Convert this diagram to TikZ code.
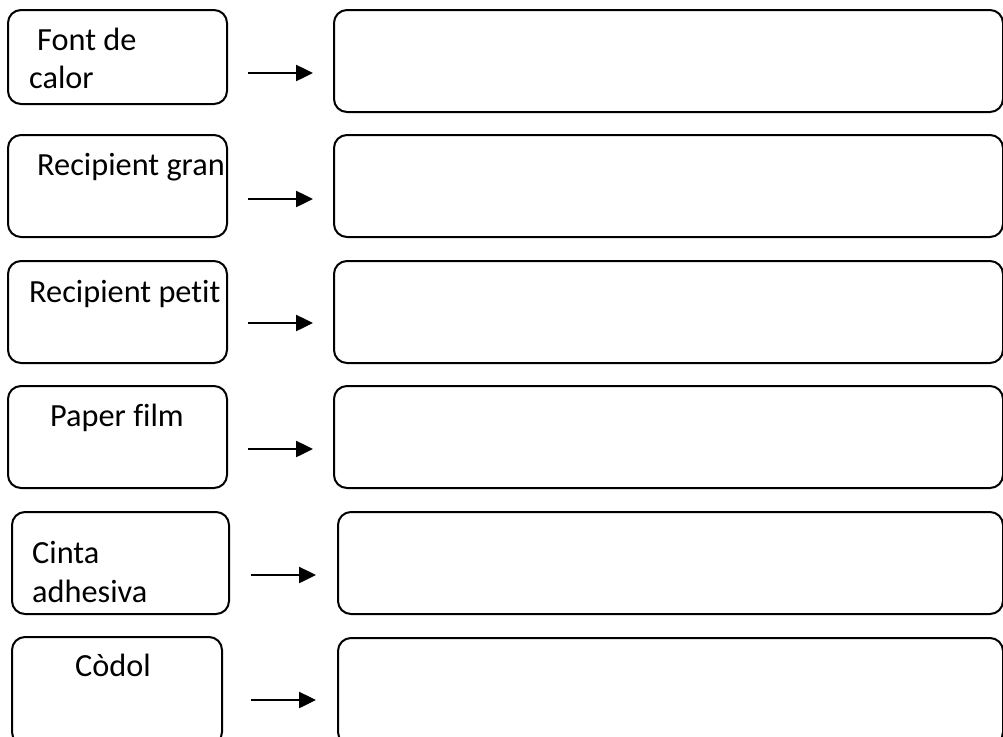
\documentclass[tikz,border=0pt]{standalone}
\usepackage{fontspec}
\setmainfont[Ligatures=NoCommon]{Carlito}
\usetikzlibrary{arrows.meta}
\tikzset{
  box/.style={draw=black, line width=2pt, rounded corners=13pt},
  lbl/.style={anchor=base west, inner sep=0pt, font=\fontsize{32.3}{38}\selectfont},
  arr/.style={line width=2.5pt, -{Triangle[length=17pt,width=16pt]}}
}
\begin{document}
\begin{tikzpicture}[x=1pt,y=-1pt]
\useasboundingbox (0,0) rectangle (1003,736);
\fill[white] (0,0) rectangle (1003,736);
\clip (0,0) rectangle (1003,736);
% left boxes
\draw[box] (8,10) rectangle (227,104);
\draw[box] (8,135) rectangle (227,237);
\draw[box] (8,261) rectangle (227,363);
\draw[box] (8,386) rectangle (227,488);
\draw[box] (12,512) rectangle (229,614);
\draw[box] (12,637) rectangle (222,745);
% right boxes
\draw[box] (334,10) rectangle (1003,112);
\draw[box] (334,135) rectangle (1003,237);
\draw[box] (334,261) rectangle (1003,363);
\draw[box] (334,386) rectangle (1003,488);
\draw[box] (338,512) rectangle (1003,614);
\draw[box] (338,638) rectangle (1003,745);
% labels
\node[lbl] (t1a) at (37,50) {Font de};
\node[lbl] (t1b) at (29,88) {calor};
\node[lbl] (t2) at (37,175) {Recipient gran};
\node[lbl] (t3) at (29,302) {Recipient petit};
\node[lbl] (t4) at (50,426) {Paper film};
\node[lbl] (t5a) at (32,563) {Cinta};
\node[lbl] (t5b) at (32,602) {adhesiva};
\node[lbl] (t6) at (75,676) {Còdol};
% arrows
\coordinate (a1s) at (248,73);  \coordinate (a1e) at (313,73);
\coordinate (a2s) at (248,199); \coordinate (a2e) at (313,199);
\coordinate (a3s) at (248,323); \coordinate (a3e) at (313,323);
\coordinate (a4s) at (248,449); \coordinate (a4e) at (313,449);
\coordinate (a5s) at (251,575); \coordinate (a5e) at (316,575);
\coordinate (a6s) at (251,700); \coordinate (a6e) at (316,700);
\draw[arr] (a1s) -- (a1e);
\draw[arr] (a2s) -- (a2e);
\draw[arr] (a3s) -- (a3e);
\draw[arr] (a4s) -- (a4e);
\draw[arr] (a5s) -- (a5e);
\draw[arr] (a6s) -- (a6e);
\end{tikzpicture}
\end{document}
